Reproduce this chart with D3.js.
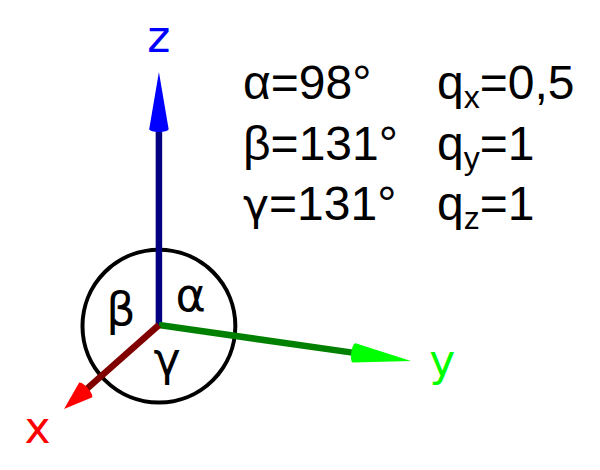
<!DOCTYPE html>
<html>
<head>
<meta charset="utf-8">
<script src="https://cdn.jsdelivr.net/npm/d3@7"></script>
<style>
html, body { margin: 0; padding: 0; background: #fff; }
text { font-family: "Liberation Sans", Arial, sans-serif; }
.dejavu { font-family: "DejaVu Sans", sans-serif; }
</style>
</head>
<body>
<div id="chart"></div>
<script>
// Projected axis ends, in units of one axis length
var axisNames = ["z", "y", "x"];
var axisEndX = [0, 0.996, -0.375];
var axisEndY = [1, -0.142, -0.332];

// Parameters table
var angleNames = ["α", "β", "γ"];
var angleValues = [98, 131, 131];
var qNames = ["x", "y", "z"];
var qValues = ["0,5", "1", "1"];

// Where the angle letters sit inside the circle
var angleMarkX = [0.125, -0.15, 0.032];
var angleMarkY = [0.055, 0, -0.198];
var circleRadius = 0.302;

var width = 600, height = 470;
var shaftColors = ["#000080", "#008000", "#800000"];
var headColors = ["#0000ff", "#00ff00", "#ff0000"];
var headFraction = 0.225;
var headHalf = 9.7;

var x = d3.scaleLinear().domain([-0.628, 1.743]).range([0, width]);
var y = d3.scaleLinear().domain([-0.573, 1.285]).range([height, 0]);

var svg = d3.select("#chart")
    .append("svg")
    .attr("width", width)
    .attr("height", height)
    .style("display", "block");

// Circle round the origin
svg.append("circle")
    .attr("cx", x(0))
    .attr("cy", y(0) + 1)
    .attr("r", x(circleRadius) - x(0))
    .attr("fill", "none")
    .attr("stroke", "#000")
    .attr("stroke-width", 4);

// Angle letters
svg.selectAll(".angle-mark")
    .data(angleNames)
    .enter()
    .append("text")
    .attr("class", "angle-mark dejavu")
    .attr("x", function(d, i) { return x(angleMarkX[i]); })
    .attr("y", function(d, i) { return y(angleMarkY[i]); })
    .attr("text-anchor", "middle")
    .attr("font-size", 46)
    .text(function(d) { return d; });

// Arrow shafts
var axes = svg.selectAll(".axis")
    .data(axisNames)
    .enter()
    .append("g")
    .attr("class", "axis");

axes.append("line")
    .attr("x1", x(0))
    .attr("y1", y(0))
    .attr("x2", function(d, i) { return x(axisEndX[i] * (1 - headFraction)); })
    .attr("y2", function(d, i) { return y(axisEndY[i] * (1 - headFraction)); })
    .attr("stroke", function(d, i) { return shaftColors[i]; })
    .attr("stroke-width", 6.5);

// Arrow heads, cone shaped with a slightly rounded base
axes.append("path")
    .attr("fill", function(d, i) { return headColors[i]; })
    .attr("d", function(d, i) {
        var tx = x(axisEndX[i]), ty = y(axisEndY[i]);
        var bx = x(axisEndX[i] * (1 - headFraction)), by = y(axisEndY[i] * (1 - headFraction));
        var len = Math.hypot(tx - bx, ty - by);
        var ux = (tx - bx) / len, uy = (ty - by) / len;
        var nx = -uy * headHalf, ny = ux * headHalf;
        var back = 4;
        var p = d3.path();
        p.moveTo(tx, ty);
        p.lineTo(bx + nx, by + ny);
        p.bezierCurveTo(bx + nx - ux * back, by + ny - uy * back,
                        bx - nx - ux * back, by - ny - uy * back,
                        bx - nx, by - ny);
        p.closePath();
        return p.toString();
    });

// Axis letters
var labelX = [0, 1.12, -0.48];
var labelY = [1.14, -0.142, -0.405];
axes.append("text")
    .attr("class", "dejavu")
    .attr("x", function(d, i) { return x(labelX[i]); })
    .attr("y", function(d, i) { return y(labelY[i]); })
    .attr("text-anchor", "middle")
    .attr("dominant-baseline", "central")
    .attr("font-size", 44)
    .attr("fill", function(d, i) { return headColors[i]; })
    .text(function(d) { return d; });

// Parameter rows
var rows = d3.scaleLinear().domain([0, 2]).range([99, 220]);

var angleRows = svg.selectAll(".angle-row")
    .data(angleNames)
    .enter()
    .append("text")
    .attr("class", "angle-row")
    .attr("x", 243)
    .attr("y", function(d, i) { return rows(i); })
    .attr("font-size", 48);

// The gamma in the reference has the straight stem of DejaVu
angleRows.append("tspan")
    .attr("class", function(d) { return d == "γ" ? "dejavu" : null; })
    .attr("font-size", function(d) { return d == "γ" ? 44 : 48; })
    .text(function(d) { return d; });
angleRows.append("tspan")
    .text(function(d, i) { return "=" + angleValues[i] + "°"; });

var qRows = svg.selectAll(".q-row")
    .data(qNames)
    .enter()
    .append("text")
    .attr("class", "q-row")
    .attr("x", 437)
    .attr("y", function(d, i) { return rows(i); })
    .attr("font-size", 48);

qRows.append("tspan").text("q");
qRows.append("tspan")
    .attr("font-size", 32)
    .attr("dy", 9)
    .text(function(d) { return d; });
qRows.append("tspan")
    .attr("dy", -9)
    .text(function(d, i) { return "=" + qValues[i]; });
</script>
</body>
</html>
